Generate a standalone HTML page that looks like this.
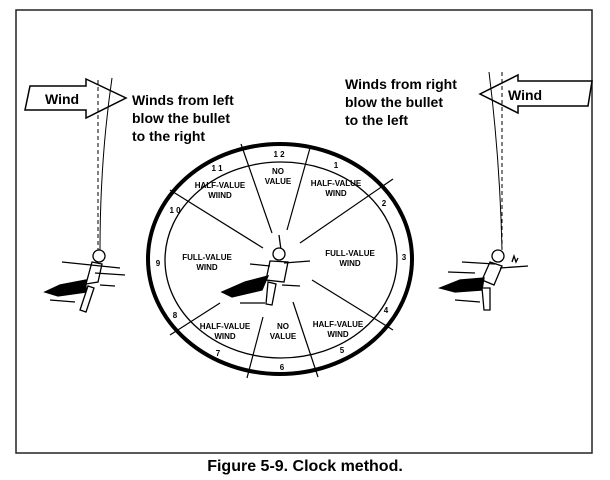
<!DOCTYPE html>
<html><head><meta charset="utf-8"><style>
html,body{margin:0;padding:0;background:#fff;}
svg{display:block;}
.t{font-family:"Liberation Sans",Arial,sans-serif;font-weight:bold;}
</style></head><body>
<svg width="610" height="480" viewBox="0 0 610 480" xmlns="http://www.w3.org/2000/svg">
<rect x="16" y="10" width="576" height="443" fill="none" stroke="#222" stroke-width="1.5"/>
<text class="t" x="305" y="471" font-size="16" text-anchor="middle">Figure 5-9. Clock method.</text>

<!-- left wind arrow -->
<polygon points="30,86 86,86 86,79 126,98 86,118 86,110 25,110" fill="#fff" stroke="#000" stroke-width="1.5"/>
<text class="t" x="45" y="104" font-size="14">Wind</text>
<line x1="98" y1="80" x2="98" y2="250" stroke="#000" stroke-width="1" stroke-dasharray="4,3"/>
<path d="M112,78 Q100,160 100,250" fill="none" stroke="#000" stroke-width="1"/>
<text class="t" font-size="14"><tspan x="132" y="105">Winds from left</tspan><tspan x="132" y="123">blow the bullet</tspan><tspan x="132" y="141">to the right</tspan></text>

<!-- right wind arrow -->
<polygon points="592,81 518,81 518,75 480,94 518,113 518,106 588,106" fill="#fff" stroke="#000" stroke-width="1.5"/>
<text class="t" x="508" y="100" font-size="14">Wind</text>
<line x1="502" y1="72" x2="502" y2="250" stroke="#000" stroke-width="1" stroke-dasharray="4,3"/>
<path d="M489,72 Q500,160 502,250" fill="none" stroke="#000" stroke-width="1"/>
<text class="t" font-size="14"><tspan x="345" y="89">Winds from right</tspan><tspan x="345" y="107">blow the bullet</tspan><tspan x="345" y="125">to the left</tspan></text>

<!-- left soldier -->
<g stroke="#000" stroke-width="1.3" fill="#fff">
<circle cx="99" cy="256" r="6"/>
<path d="M92,262 L102,264 L98,282 L86,284 Z"/>
<path d="M86,280 L60,285 L45,292 L58,296 L86,292 Z" fill="#000"/>
<path d="M88,286 L80,310 L86,312 L94,288 Z"/>
<line x1="62" y1="262" x2="120" y2="268"/>
<line x1="95" y1="273" x2="125" y2="275"/>
<line x1="50" y1="300" x2="75" y2="302"/>
<line x1="100" y1="285" x2="115" y2="286"/>
</g>
<!-- right soldier -->
<g stroke="#000" stroke-width="1.3" fill="#fff">
<circle cx="498" cy="256" r="6"/>
<path d="M490,262 L502,266 L494,285 L482,280 Z"/>
<path d="M484,278 L460,280 L440,288 L455,292 L482,290 Z" fill="#000"/>
<path d="M482,288 L484,310 L490,310 L490,288 Z"/>
<line x1="462" y1="262" x2="495" y2="264"/>
<line x1="448" y1="272" x2="475" y2="273"/>
<line x1="500" y1="268" x2="528" y2="266"/>
<line x1="455" y1="300" x2="480" y2="302"/>
<path d="M512,262 l2,-6 l2,6 l2,-4" fill="none"/>
</g>

<!-- clock -->
<ellipse cx="280" cy="259" rx="132" ry="115" fill="none" stroke="#000" stroke-width="4"/>
<ellipse cx="281" cy="260" rx="116" ry="98" fill="none" stroke="#000" stroke-width="1.3"/>
<g stroke="#000" stroke-width="1.2">
<line x1="241" y1="144" x2="272" y2="233"/>
<line x1="310" y1="148" x2="287" y2="230"/>
<line x1="170" y1="190" x2="263" y2="248"/>
<line x1="393" y1="179" x2="300" y2="243"/>
<line x1="312" y1="280" x2="393" y2="330"/>
<line x1="220" y1="303" x2="170" y2="335"/>
<line x1="263" y1="317" x2="247" y2="378"/>
<line x1="293" y1="302" x2="318" y2="377"/>
</g>
<g class="t" font-size="8" text-anchor="middle">
<text x="279" y="157">1 2</text><text x="336" y="168">1</text><text x="384" y="206">2</text>
<text x="404" y="260">3</text><text x="386" y="313">4</text><text x="342" y="353">5</text>
<text x="282" y="370">6</text><text x="218" y="356">7</text><text x="175" y="318">8</text>
<text x="158" y="266">9</text><text x="175" y="213">1 0</text><text x="217" y="171">1 1</text>
<text x="278" y="174">NO</text><text x="278" y="184">VALUE</text>
<text x="220" y="188">HALF-VALUE</text><text x="220" y="198">WIIND</text>
<text x="336" y="186">HALF-VALUE</text><text x="336" y="196">WIND</text>
<text x="207" y="260">FULL-VALUE</text><text x="207" y="270">WIND</text>
<text x="350" y="256">FULL-VALUE</text><text x="350" y="266">WIND</text>
<text x="225" y="329">HALF-VALUE</text><text x="225" y="339">WIND</text>
<text x="283" y="329">NO</text><text x="283" y="339">VALUE</text>
<text x="338" y="327">HALF-VALUE</text><text x="338" y="337">WIND</text>
</g>
<!-- center soldier -->
<g stroke="#000" stroke-width="1.3" fill="#fff">
<line x1="279" y1="235" x2="281" y2="250"/>
<circle cx="279" cy="254" r="6"/>
<path d="M270,261 L288,262 L284,282 L266,280 Z"/>
<path d="M268,276 L245,282 L222,292 L232,297 L262,290 Z" fill="#000"/>
<path d="M268,282 L266,304 L272,305 L276,284 Z"/>
<line x1="284" y1="263" x2="310" y2="261"/>
<line x1="250" y1="264" x2="270" y2="266"/>
<line x1="240" y1="303" x2="265" y2="303"/>
<line x1="282" y1="285" x2="300" y2="286"/>
</g>
</svg>
</body></html>
